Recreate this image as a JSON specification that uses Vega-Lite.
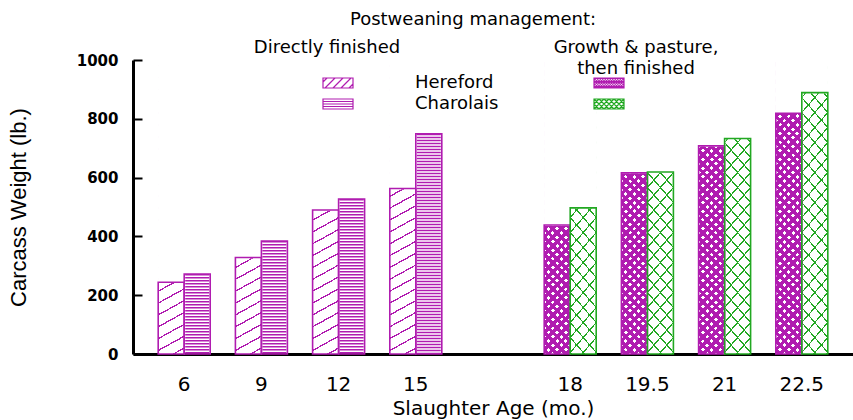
{
"$schema":"https://vega.github.io/schema/vega-lite/v6.json",
"width":720,"height":294,
"autosize":{"type":"none"},
"padding":{"left":133,"top":60,"right":0,"bottom":66},
"background":"white",
"title":{"text":"Postweaning management:","anchor":"middle","dx":-20,"offset":10,"font":"DejaVu Sans","fontSize":18,"fontWeight":"normal","color":"black"},
"config":{
"view":{"stroke":null},
"axisX":{"domainColor":"black","domainWidth":3,"ticks":false,"labelFont":"DejaVu Sans","labelFontSize":20,"labelColor":"black","labelPadding":20,"labelAngle":0,"titleFont":"DejaVu Sans","titleFontSize":20,"titleFontWeight":"normal","titleColor":"black","titlePadding":4,"grid":false,"zindex":1},
"axisY":{"domainColor":"black","domainWidth":3,"tickColor":"black","tickWidth":2,"tickSize":-9,"labelFont":"DejaVu Sans","labelFontWeight":"bold","labelFontSize":15,"labelColor":"black","labelPadding":24,"titleFont":"Liberation Sans","titleFontSize":22,"titleFontWeight":"normal","titleColor":"black","titlePadding":46,"grid":false,"zindex":1}
},
"data":{"values":[
{"age":"6","breed":"Hereford","management":"Directly finished","series":"Hereford, directly finished","weight":244},
{"age":"6","breed":"Charolais","management":"Directly finished","series":"Charolais, directly finished","weight":272},
{"age":"9","breed":"Hereford","management":"Directly finished","series":"Hereford, directly finished","weight":328},
{"age":"9","breed":"Charolais","management":"Directly finished","series":"Charolais, directly finished","weight":384},
{"age":"12","breed":"Hereford","management":"Directly finished","series":"Hereford, directly finished","weight":490},
{"age":"12","breed":"Charolais","management":"Directly finished","series":"Charolais, directly finished","weight":527},
{"age":"15","breed":"Hereford","management":"Directly finished","series":"Hereford, directly finished","weight":563},
{"age":"15","breed":"Charolais","management":"Directly finished","series":"Charolais, directly finished","weight":749},
{"age":"18","breed":"Hereford","management":"Growth & pasture, then finished","series":"Hereford, growth & pasture","weight":439},
{"age":"18","breed":"Charolais","management":"Growth & pasture, then finished","series":"Charolais, growth & pasture","weight":497},
{"age":"19.5","breed":"Hereford","management":"Growth & pasture, then finished","series":"Hereford, growth & pasture","weight":616},
{"age":"19.5","breed":"Charolais","management":"Growth & pasture, then finished","series":"Charolais, growth & pasture","weight":619},
{"age":"21","breed":"Hereford","management":"Growth & pasture, then finished","series":"Hereford, growth & pasture","weight":708},
{"age":"21","breed":"Charolais","management":"Growth & pasture, then finished","series":"Charolais, growth & pasture","weight":733},
{"age":"22.5","breed":"Hereford","management":"Growth & pasture, then finished","series":"Hereford, growth & pasture","weight":819},
{"age":"22.5","breed":"Charolais","management":"Growth & pasture, then finished","series":"Charolais, growth & pasture","weight":889}
]},
"layer":[
{
"encoding":{
"x":{"field":"age","type":"ordinal","title":"Slaughter Age (mo.)","scale":{"domain":["6","9","12","15"," ","18","19.5","21","22.5"],"paddingInner":0.3264,"paddingOuter":0.3264}},
"xOffset":{"field":"breed","type":"nominal","scale":{"domain":["Hereford","Charolais"],"paddingInner":0,"paddingOuter":0}}
},
"layer":[
{
"transform":[{"filter":"datum.series == 'Hereford, directly finished'"}],
"mark":{"type":"bar","fill":{"gradient":"linear","x1":0,"y1":0,"x2":0.0509,"y2":1.0461,"stops":[
{"offset":0.0168,"color":"#fff"},{"offset":0.0168,"color":"#b01cb0"},{"offset":0.0216,"color":"#b01cb0"},{"offset":0.0216,"color":"#fff"},
{"offset":0.0553,"color":"#fff"},{"offset":0.0553,"color":"#b01cb0"},{"offset":0.0601,"color":"#b01cb0"},{"offset":0.0601,"color":"#fff"},
{"offset":0.0938,"color":"#fff"},{"offset":0.0938,"color":"#b01cb0"},{"offset":0.0986,"color":"#b01cb0"},{"offset":0.0986,"color":"#fff"},
{"offset":0.1322,"color":"#fff"},{"offset":0.1322,"color":"#b01cb0"},{"offset":0.137,"color":"#b01cb0"},{"offset":0.137,"color":"#fff"},
{"offset":0.1707,"color":"#fff"},{"offset":0.1707,"color":"#b01cb0"},{"offset":0.1755,"color":"#b01cb0"},{"offset":0.1755,"color":"#fff"},
{"offset":0.2091,"color":"#fff"},{"offset":0.2091,"color":"#b01cb0"},{"offset":0.2139,"color":"#b01cb0"},{"offset":0.2139,"color":"#fff"},
{"offset":0.2476,"color":"#fff"},{"offset":0.2476,"color":"#b01cb0"},{"offset":0.2524,"color":"#b01cb0"},{"offset":0.2524,"color":"#fff"},
{"offset":0.2861,"color":"#fff"},{"offset":0.2861,"color":"#b01cb0"},{"offset":0.2909,"color":"#b01cb0"},{"offset":0.2909,"color":"#fff"},
{"offset":0.3245,"color":"#fff"},{"offset":0.3245,"color":"#b01cb0"},{"offset":0.3293,"color":"#b01cb0"},{"offset":0.3293,"color":"#fff"},
{"offset":0.363,"color":"#fff"},{"offset":0.363,"color":"#b01cb0"},{"offset":0.3678,"color":"#b01cb0"},{"offset":0.3678,"color":"#fff"},
{"offset":0.4014,"color":"#fff"},{"offset":0.4014,"color":"#b01cb0"},{"offset":0.4062,"color":"#b01cb0"},{"offset":0.4062,"color":"#fff"},
{"offset":0.4399,"color":"#fff"},{"offset":0.4399,"color":"#b01cb0"},{"offset":0.4447,"color":"#b01cb0"},{"offset":0.4447,"color":"#fff"},
{"offset":0.4784,"color":"#fff"},{"offset":0.4784,"color":"#b01cb0"},{"offset":0.4832,"color":"#b01cb0"},{"offset":0.4832,"color":"#fff"},
{"offset":0.5168,"color":"#fff"},{"offset":0.5168,"color":"#b01cb0"},{"offset":0.5216,"color":"#b01cb0"},{"offset":0.5216,"color":"#fff"},
{"offset":0.5553,"color":"#fff"},{"offset":0.5553,"color":"#b01cb0"},{"offset":0.5601,"color":"#b01cb0"},{"offset":0.5601,"color":"#fff"},
{"offset":0.5938,"color":"#fff"},{"offset":0.5938,"color":"#b01cb0"},{"offset":0.5986,"color":"#b01cb0"},{"offset":0.5986,"color":"#fff"},
{"offset":0.6322,"color":"#fff"},{"offset":0.6322,"color":"#b01cb0"},{"offset":0.637,"color":"#b01cb0"},{"offset":0.637,"color":"#fff"},
{"offset":0.6707,"color":"#fff"},{"offset":0.6707,"color":"#b01cb0"},{"offset":0.6755,"color":"#b01cb0"},{"offset":0.6755,"color":"#fff"},
{"offset":0.7091,"color":"#fff"},{"offset":0.7091,"color":"#b01cb0"},{"offset":0.7139,"color":"#b01cb0"},{"offset":0.7139,"color":"#fff"},
{"offset":0.7476,"color":"#fff"},{"offset":0.7476,"color":"#b01cb0"},{"offset":0.7524,"color":"#b01cb0"},{"offset":0.7524,"color":"#fff"},
{"offset":0.7861,"color":"#fff"},{"offset":0.7861,"color":"#b01cb0"},{"offset":0.7909,"color":"#b01cb0"},{"offset":0.7909,"color":"#fff"},
{"offset":0.8245,"color":"#fff"},{"offset":0.8245,"color":"#b01cb0"},{"offset":0.8293,"color":"#b01cb0"},{"offset":0.8293,"color":"#fff"},
{"offset":0.863,"color":"#fff"},{"offset":0.863,"color":"#b01cb0"},{"offset":0.8678,"color":"#b01cb0"},{"offset":0.8678,"color":"#fff"},
{"offset":0.9014,"color":"#fff"},{"offset":0.9014,"color":"#b01cb0"},{"offset":0.9062,"color":"#b01cb0"},{"offset":0.9062,"color":"#fff"},
{"offset":0.9399,"color":"#fff"},{"offset":0.9399,"color":"#b01cb0"},{"offset":0.9447,"color":"#b01cb0"},{"offset":0.9447,"color":"#fff"},
{"offset":0.9784,"color":"#fff"},{"offset":0.9784,"color":"#b01cb0"},{"offset":0.9832,"color":"#b01cb0"},{"offset":0.9832,"color":"#fff"}
]}},
"encoding":{"y":{"datum":1000,"type":"quantitative","title":"Carcass Weight (lb.)","scale":{"domain":[0,1000],"nice":false},"axis":{"values":[0,200,400,600,800,1000],"format":"d"}},"y2":{"datum":0}}
},
{
"transform":[{"filter":"datum.series == 'Hereford, growth & pasture'"}],
"mark":{"type":"bar","fill":{"gradient":"linear","x1":0,"y1":0,"x2":0.0955,"y2":1.08,"stops":[
{"offset":0.0061,"color":"#fff"},{"offset":0.0061,"color":"#b01cb0"},{"offset":0.0209,"color":"#b01cb0"},{"offset":0.0209,"color":"#fff"},
{"offset":0.0331,"color":"#fff"},{"offset":0.0331,"color":"#b01cb0"},{"offset":0.0479,"color":"#b01cb0"},{"offset":0.0479,"color":"#fff"},
{"offset":0.0602,"color":"#fff"},{"offset":0.0602,"color":"#b01cb0"},{"offset":0.075,"color":"#b01cb0"},{"offset":0.075,"color":"#fff"},
{"offset":0.0872,"color":"#fff"},{"offset":0.0872,"color":"#b01cb0"},{"offset":0.102,"color":"#b01cb0"},{"offset":0.102,"color":"#fff"},
{"offset":0.1142,"color":"#fff"},{"offset":0.1142,"color":"#b01cb0"},{"offset":0.129,"color":"#b01cb0"},{"offset":0.129,"color":"#fff"},
{"offset":0.1412,"color":"#fff"},{"offset":0.1412,"color":"#b01cb0"},{"offset":0.1561,"color":"#b01cb0"},{"offset":0.1561,"color":"#fff"},
{"offset":0.1683,"color":"#fff"},{"offset":0.1683,"color":"#b01cb0"},{"offset":0.1831,"color":"#b01cb0"},{"offset":0.1831,"color":"#fff"},
{"offset":0.1953,"color":"#fff"},{"offset":0.1953,"color":"#b01cb0"},{"offset":0.2101,"color":"#b01cb0"},{"offset":0.2101,"color":"#fff"},
{"offset":0.2223,"color":"#fff"},{"offset":0.2223,"color":"#b01cb0"},{"offset":0.2371,"color":"#b01cb0"},{"offset":0.2371,"color":"#fff"},
{"offset":0.2494,"color":"#fff"},{"offset":0.2494,"color":"#b01cb0"},{"offset":0.2642,"color":"#b01cb0"},{"offset":0.2642,"color":"#fff"},
{"offset":0.2764,"color":"#fff"},{"offset":0.2764,"color":"#b01cb0"},{"offset":0.2912,"color":"#b01cb0"},{"offset":0.2912,"color":"#fff"},
{"offset":0.3034,"color":"#fff"},{"offset":0.3034,"color":"#b01cb0"},{"offset":0.3182,"color":"#b01cb0"},{"offset":0.3182,"color":"#fff"},
{"offset":0.3304,"color":"#fff"},{"offset":0.3304,"color":"#b01cb0"},{"offset":0.3452,"color":"#b01cb0"},{"offset":0.3452,"color":"#fff"},
{"offset":0.3575,"color":"#fff"},{"offset":0.3575,"color":"#b01cb0"},{"offset":0.3723,"color":"#b01cb0"},{"offset":0.3723,"color":"#fff"},
{"offset":0.3845,"color":"#fff"},{"offset":0.3845,"color":"#b01cb0"},{"offset":0.3993,"color":"#b01cb0"},{"offset":0.3993,"color":"#fff"},
{"offset":0.4115,"color":"#fff"},{"offset":0.4115,"color":"#b01cb0"},{"offset":0.4263,"color":"#b01cb0"},{"offset":0.4263,"color":"#fff"},
{"offset":0.4386,"color":"#fff"},{"offset":0.4386,"color":"#b01cb0"},{"offset":0.4534,"color":"#b01cb0"},{"offset":0.4534,"color":"#fff"},
{"offset":0.4656,"color":"#fff"},{"offset":0.4656,"color":"#b01cb0"},{"offset":0.4804,"color":"#b01cb0"},{"offset":0.4804,"color":"#fff"},
{"offset":0.4926,"color":"#fff"},{"offset":0.4926,"color":"#b01cb0"},{"offset":0.5074,"color":"#b01cb0"},{"offset":0.5074,"color":"#fff"},
{"offset":0.5196,"color":"#fff"},{"offset":0.5196,"color":"#b01cb0"},{"offset":0.5344,"color":"#b01cb0"},{"offset":0.5344,"color":"#fff"},
{"offset":0.5467,"color":"#fff"},{"offset":0.5467,"color":"#b01cb0"},{"offset":0.5615,"color":"#b01cb0"},{"offset":0.5615,"color":"#fff"},
{"offset":0.5737,"color":"#fff"},{"offset":0.5737,"color":"#b01cb0"},{"offset":0.5885,"color":"#b01cb0"},{"offset":0.5885,"color":"#fff"},
{"offset":0.6007,"color":"#fff"},{"offset":0.6007,"color":"#b01cb0"},{"offset":0.6155,"color":"#b01cb0"},{"offset":0.6155,"color":"#fff"},
{"offset":0.6277,"color":"#fff"},{"offset":0.6277,"color":"#b01cb0"},{"offset":0.6425,"color":"#b01cb0"},{"offset":0.6425,"color":"#fff"},
{"offset":0.6548,"color":"#fff"},{"offset":0.6548,"color":"#b01cb0"},{"offset":0.6696,"color":"#b01cb0"},{"offset":0.6696,"color":"#fff"},
{"offset":0.6818,"color":"#fff"},{"offset":0.6818,"color":"#b01cb0"},{"offset":0.6966,"color":"#b01cb0"},{"offset":0.6966,"color":"#fff"},
{"offset":0.7088,"color":"#fff"},{"offset":0.7088,"color":"#b01cb0"},{"offset":0.7236,"color":"#b01cb0"},{"offset":0.7236,"color":"#fff"},
{"offset":0.7358,"color":"#fff"},{"offset":0.7358,"color":"#b01cb0"},{"offset":0.7506,"color":"#b01cb0"},{"offset":0.7506,"color":"#fff"},
{"offset":0.7629,"color":"#fff"},{"offset":0.7629,"color":"#b01cb0"},{"offset":0.7777,"color":"#b01cb0"},{"offset":0.7777,"color":"#fff"},
{"offset":0.7899,"color":"#fff"},{"offset":0.7899,"color":"#b01cb0"},{"offset":0.8047,"color":"#b01cb0"},{"offset":0.8047,"color":"#fff"},
{"offset":0.8169,"color":"#fff"},{"offset":0.8169,"color":"#b01cb0"},{"offset":0.8317,"color":"#b01cb0"},{"offset":0.8317,"color":"#fff"},
{"offset":0.844,"color":"#fff"},{"offset":0.844,"color":"#b01cb0"},{"offset":0.8588,"color":"#b01cb0"},{"offset":0.8588,"color":"#fff"},
{"offset":0.871,"color":"#fff"},{"offset":0.871,"color":"#b01cb0"},{"offset":0.8858,"color":"#b01cb0"},{"offset":0.8858,"color":"#fff"},
{"offset":0.898,"color":"#fff"},{"offset":0.898,"color":"#b01cb0"},{"offset":0.9128,"color":"#b01cb0"},{"offset":0.9128,"color":"#fff"},
{"offset":0.925,"color":"#fff"},{"offset":0.925,"color":"#b01cb0"},{"offset":0.9398,"color":"#b01cb0"},{"offset":0.9398,"color":"#fff"},
{"offset":0.9521,"color":"#fff"},{"offset":0.9521,"color":"#b01cb0"},{"offset":0.9669,"color":"#b01cb0"},{"offset":0.9669,"color":"#fff"},
{"offset":0.9791,"color":"#fff"},{"offset":0.9791,"color":"#b01cb0"},{"offset":0.9939,"color":"#b01cb0"},{"offset":0.9939,"color":"#fff"}
]}},
"encoding":{"y":{"datum":1000,"type":"quantitative","title":"Carcass Weight (lb.)"},"y2":{"datum":0}}
},
{
"transform":[{"filter":"datum.series == 'Hereford, growth & pasture'"}],
"mark":{"type":"bar","fill":{"gradient":"linear","x1":1,"y1":0,"x2":0.9045,"y2":1.08,"stops":[
{"offset":0.0061,"color":"rgba(255,255,255,0)"},{"offset":0.0061,"color":"#b01cb0"},{"offset":0.0209,"color":"#b01cb0"},{"offset":0.0209,"color":"rgba(255,255,255,0)"},
{"offset":0.0331,"color":"rgba(255,255,255,0)"},{"offset":0.0331,"color":"#b01cb0"},{"offset":0.0479,"color":"#b01cb0"},{"offset":0.0479,"color":"rgba(255,255,255,0)"},
{"offset":0.0602,"color":"rgba(255,255,255,0)"},{"offset":0.0602,"color":"#b01cb0"},{"offset":0.075,"color":"#b01cb0"},{"offset":0.075,"color":"rgba(255,255,255,0)"},
{"offset":0.0872,"color":"rgba(255,255,255,0)"},{"offset":0.0872,"color":"#b01cb0"},{"offset":0.102,"color":"#b01cb0"},{"offset":0.102,"color":"rgba(255,255,255,0)"},
{"offset":0.1142,"color":"rgba(255,255,255,0)"},{"offset":0.1142,"color":"#b01cb0"},{"offset":0.129,"color":"#b01cb0"},{"offset":0.129,"color":"rgba(255,255,255,0)"},
{"offset":0.1412,"color":"rgba(255,255,255,0)"},{"offset":0.1412,"color":"#b01cb0"},{"offset":0.1561,"color":"#b01cb0"},{"offset":0.1561,"color":"rgba(255,255,255,0)"},
{"offset":0.1683,"color":"rgba(255,255,255,0)"},{"offset":0.1683,"color":"#b01cb0"},{"offset":0.1831,"color":"#b01cb0"},{"offset":0.1831,"color":"rgba(255,255,255,0)"},
{"offset":0.1953,"color":"rgba(255,255,255,0)"},{"offset":0.1953,"color":"#b01cb0"},{"offset":0.2101,"color":"#b01cb0"},{"offset":0.2101,"color":"rgba(255,255,255,0)"},
{"offset":0.2223,"color":"rgba(255,255,255,0)"},{"offset":0.2223,"color":"#b01cb0"},{"offset":0.2371,"color":"#b01cb0"},{"offset":0.2371,"color":"rgba(255,255,255,0)"},
{"offset":0.2494,"color":"rgba(255,255,255,0)"},{"offset":0.2494,"color":"#b01cb0"},{"offset":0.2642,"color":"#b01cb0"},{"offset":0.2642,"color":"rgba(255,255,255,0)"},
{"offset":0.2764,"color":"rgba(255,255,255,0)"},{"offset":0.2764,"color":"#b01cb0"},{"offset":0.2912,"color":"#b01cb0"},{"offset":0.2912,"color":"rgba(255,255,255,0)"},
{"offset":0.3034,"color":"rgba(255,255,255,0)"},{"offset":0.3034,"color":"#b01cb0"},{"offset":0.3182,"color":"#b01cb0"},{"offset":0.3182,"color":"rgba(255,255,255,0)"},
{"offset":0.3304,"color":"rgba(255,255,255,0)"},{"offset":0.3304,"color":"#b01cb0"},{"offset":0.3452,"color":"#b01cb0"},{"offset":0.3452,"color":"rgba(255,255,255,0)"},
{"offset":0.3575,"color":"rgba(255,255,255,0)"},{"offset":0.3575,"color":"#b01cb0"},{"offset":0.3723,"color":"#b01cb0"},{"offset":0.3723,"color":"rgba(255,255,255,0)"},
{"offset":0.3845,"color":"rgba(255,255,255,0)"},{"offset":0.3845,"color":"#b01cb0"},{"offset":0.3993,"color":"#b01cb0"},{"offset":0.3993,"color":"rgba(255,255,255,0)"},
{"offset":0.4115,"color":"rgba(255,255,255,0)"},{"offset":0.4115,"color":"#b01cb0"},{"offset":0.4263,"color":"#b01cb0"},{"offset":0.4263,"color":"rgba(255,255,255,0)"},
{"offset":0.4386,"color":"rgba(255,255,255,0)"},{"offset":0.4386,"color":"#b01cb0"},{"offset":0.4534,"color":"#b01cb0"},{"offset":0.4534,"color":"rgba(255,255,255,0)"},
{"offset":0.4656,"color":"rgba(255,255,255,0)"},{"offset":0.4656,"color":"#b01cb0"},{"offset":0.4804,"color":"#b01cb0"},{"offset":0.4804,"color":"rgba(255,255,255,0)"},
{"offset":0.4926,"color":"rgba(255,255,255,0)"},{"offset":0.4926,"color":"#b01cb0"},{"offset":0.5074,"color":"#b01cb0"},{"offset":0.5074,"color":"rgba(255,255,255,0)"},
{"offset":0.5196,"color":"rgba(255,255,255,0)"},{"offset":0.5196,"color":"#b01cb0"},{"offset":0.5344,"color":"#b01cb0"},{"offset":0.5344,"color":"rgba(255,255,255,0)"},
{"offset":0.5467,"color":"rgba(255,255,255,0)"},{"offset":0.5467,"color":"#b01cb0"},{"offset":0.5615,"color":"#b01cb0"},{"offset":0.5615,"color":"rgba(255,255,255,0)"},
{"offset":0.5737,"color":"rgba(255,255,255,0)"},{"offset":0.5737,"color":"#b01cb0"},{"offset":0.5885,"color":"#b01cb0"},{"offset":0.5885,"color":"rgba(255,255,255,0)"},
{"offset":0.6007,"color":"rgba(255,255,255,0)"},{"offset":0.6007,"color":"#b01cb0"},{"offset":0.6155,"color":"#b01cb0"},{"offset":0.6155,"color":"rgba(255,255,255,0)"},
{"offset":0.6277,"color":"rgba(255,255,255,0)"},{"offset":0.6277,"color":"#b01cb0"},{"offset":0.6425,"color":"#b01cb0"},{"offset":0.6425,"color":"rgba(255,255,255,0)"},
{"offset":0.6548,"color":"rgba(255,255,255,0)"},{"offset":0.6548,"color":"#b01cb0"},{"offset":0.6696,"color":"#b01cb0"},{"offset":0.6696,"color":"rgba(255,255,255,0)"},
{"offset":0.6818,"color":"rgba(255,255,255,0)"},{"offset":0.6818,"color":"#b01cb0"},{"offset":0.6966,"color":"#b01cb0"},{"offset":0.6966,"color":"rgba(255,255,255,0)"},
{"offset":0.7088,"color":"rgba(255,255,255,0)"},{"offset":0.7088,"color":"#b01cb0"},{"offset":0.7236,"color":"#b01cb0"},{"offset":0.7236,"color":"rgba(255,255,255,0)"},
{"offset":0.7358,"color":"rgba(255,255,255,0)"},{"offset":0.7358,"color":"#b01cb0"},{"offset":0.7506,"color":"#b01cb0"},{"offset":0.7506,"color":"rgba(255,255,255,0)"},
{"offset":0.7629,"color":"rgba(255,255,255,0)"},{"offset":0.7629,"color":"#b01cb0"},{"offset":0.7777,"color":"#b01cb0"},{"offset":0.7777,"color":"rgba(255,255,255,0)"},
{"offset":0.7899,"color":"rgba(255,255,255,0)"},{"offset":0.7899,"color":"#b01cb0"},{"offset":0.8047,"color":"#b01cb0"},{"offset":0.8047,"color":"rgba(255,255,255,0)"},
{"offset":0.8169,"color":"rgba(255,255,255,0)"},{"offset":0.8169,"color":"#b01cb0"},{"offset":0.8317,"color":"#b01cb0"},{"offset":0.8317,"color":"rgba(255,255,255,0)"},
{"offset":0.844,"color":"rgba(255,255,255,0)"},{"offset":0.844,"color":"#b01cb0"},{"offset":0.8588,"color":"#b01cb0"},{"offset":0.8588,"color":"rgba(255,255,255,0)"},
{"offset":0.871,"color":"rgba(255,255,255,0)"},{"offset":0.871,"color":"#b01cb0"},{"offset":0.8858,"color":"#b01cb0"},{"offset":0.8858,"color":"rgba(255,255,255,0)"},
{"offset":0.898,"color":"rgba(255,255,255,0)"},{"offset":0.898,"color":"#b01cb0"},{"offset":0.9128,"color":"#b01cb0"},{"offset":0.9128,"color":"rgba(255,255,255,0)"},
{"offset":0.925,"color":"rgba(255,255,255,0)"},{"offset":0.925,"color":"#b01cb0"},{"offset":0.9398,"color":"#b01cb0"},{"offset":0.9398,"color":"rgba(255,255,255,0)"},
{"offset":0.9521,"color":"rgba(255,255,255,0)"},{"offset":0.9521,"color":"#b01cb0"},{"offset":0.9669,"color":"#b01cb0"},{"offset":0.9669,"color":"rgba(255,255,255,0)"},
{"offset":0.9791,"color":"rgba(255,255,255,0)"},{"offset":0.9791,"color":"#b01cb0"},{"offset":0.9939,"color":"#b01cb0"},{"offset":0.9939,"color":"rgba(255,255,255,0)"}
]}},
"encoding":{"y":{"datum":1000,"type":"quantitative","title":"Carcass Weight (lb.)"},"y2":{"datum":0}}
},
{
"transform":[{"filter":"datum.series == 'Charolais, growth & pasture'"}],
"mark":{"type":"bar","fill":{"gradient":"linear","x1":0,"y1":0,"x2":0.1113,"y2":1.0907,"stops":[
{"offset":0.0204,"color":"#fff"},{"offset":0.0204,"color":"#22a822"},{"offset":0.026,"color":"#22a822"},{"offset":0.026,"color":"#fff"},
{"offset":0.0666,"color":"#fff"},{"offset":0.0666,"color":"#22a822"},{"offset":0.0722,"color":"#22a822"},{"offset":0.0722,"color":"#fff"},
{"offset":0.1129,"color":"#fff"},{"offset":0.1129,"color":"#22a822"},{"offset":0.1185,"color":"#22a822"},{"offset":0.1185,"color":"#fff"},
{"offset":0.1592,"color":"#fff"},{"offset":0.1592,"color":"#22a822"},{"offset":0.1648,"color":"#22a822"},{"offset":0.1648,"color":"#fff"},
{"offset":0.2055,"color":"#fff"},{"offset":0.2055,"color":"#22a822"},{"offset":0.2111,"color":"#22a822"},{"offset":0.2111,"color":"#fff"},
{"offset":0.2518,"color":"#fff"},{"offset":0.2518,"color":"#22a822"},{"offset":0.2574,"color":"#22a822"},{"offset":0.2574,"color":"#fff"},
{"offset":0.2981,"color":"#fff"},{"offset":0.2981,"color":"#22a822"},{"offset":0.3037,"color":"#22a822"},{"offset":0.3037,"color":"#fff"},
{"offset":0.3444,"color":"#fff"},{"offset":0.3444,"color":"#22a822"},{"offset":0.35,"color":"#22a822"},{"offset":0.35,"color":"#fff"},
{"offset":0.3907,"color":"#fff"},{"offset":0.3907,"color":"#22a822"},{"offset":0.3963,"color":"#22a822"},{"offset":0.3963,"color":"#fff"},
{"offset":0.437,"color":"#fff"},{"offset":0.437,"color":"#22a822"},{"offset":0.4426,"color":"#22a822"},{"offset":0.4426,"color":"#fff"},
{"offset":0.4833,"color":"#fff"},{"offset":0.4833,"color":"#22a822"},{"offset":0.4889,"color":"#22a822"},{"offset":0.4889,"color":"#fff"},
{"offset":0.5296,"color":"#fff"},{"offset":0.5296,"color":"#22a822"},{"offset":0.5352,"color":"#22a822"},{"offset":0.5352,"color":"#fff"},
{"offset":0.5759,"color":"#fff"},{"offset":0.5759,"color":"#22a822"},{"offset":0.5815,"color":"#22a822"},{"offset":0.5815,"color":"#fff"},
{"offset":0.6222,"color":"#fff"},{"offset":0.6222,"color":"#22a822"},{"offset":0.6278,"color":"#22a822"},{"offset":0.6278,"color":"#fff"},
{"offset":0.6685,"color":"#fff"},{"offset":0.6685,"color":"#22a822"},{"offset":0.6741,"color":"#22a822"},{"offset":0.6741,"color":"#fff"},
{"offset":0.7148,"color":"#fff"},{"offset":0.7148,"color":"#22a822"},{"offset":0.7204,"color":"#22a822"},{"offset":0.7204,"color":"#fff"},
{"offset":0.7611,"color":"#fff"},{"offset":0.7611,"color":"#22a822"},{"offset":0.7667,"color":"#22a822"},{"offset":0.7667,"color":"#fff"},
{"offset":0.8074,"color":"#fff"},{"offset":0.8074,"color":"#22a822"},{"offset":0.813,"color":"#22a822"},{"offset":0.813,"color":"#fff"},
{"offset":0.8537,"color":"#fff"},{"offset":0.8537,"color":"#22a822"},{"offset":0.8593,"color":"#22a822"},{"offset":0.8593,"color":"#fff"},
{"offset":0.9,"color":"#fff"},{"offset":0.9,"color":"#22a822"},{"offset":0.9056,"color":"#22a822"},{"offset":0.9056,"color":"#fff"},
{"offset":0.9463,"color":"#fff"},{"offset":0.9463,"color":"#22a822"},{"offset":0.9519,"color":"#22a822"},{"offset":0.9519,"color":"#fff"},
{"offset":0.9926,"color":"#fff"},{"offset":0.9926,"color":"#22a822"},{"offset":0.9982,"color":"#22a822"},{"offset":0.9982,"color":"#fff"}
]}},
"encoding":{"y":{"datum":1000,"type":"quantitative","title":"Carcass Weight (lb.)"},"y2":{"datum":0}}
},
{
"transform":[{"filter":"datum.series == 'Charolais, growth & pasture'"}],
"mark":{"type":"bar","fill":{"gradient":"linear","x1":1,"y1":0,"x2":0.8887,"y2":1.0907,"stops":[
{"offset":0.0204,"color":"rgba(255,255,255,0)"},{"offset":0.0204,"color":"#22a822"},{"offset":0.026,"color":"#22a822"},{"offset":0.026,"color":"rgba(255,255,255,0)"},
{"offset":0.0666,"color":"rgba(255,255,255,0)"},{"offset":0.0666,"color":"#22a822"},{"offset":0.0722,"color":"#22a822"},{"offset":0.0722,"color":"rgba(255,255,255,0)"},
{"offset":0.1129,"color":"rgba(255,255,255,0)"},{"offset":0.1129,"color":"#22a822"},{"offset":0.1185,"color":"#22a822"},{"offset":0.1185,"color":"rgba(255,255,255,0)"},
{"offset":0.1592,"color":"rgba(255,255,255,0)"},{"offset":0.1592,"color":"#22a822"},{"offset":0.1648,"color":"#22a822"},{"offset":0.1648,"color":"rgba(255,255,255,0)"},
{"offset":0.2055,"color":"rgba(255,255,255,0)"},{"offset":0.2055,"color":"#22a822"},{"offset":0.2111,"color":"#22a822"},{"offset":0.2111,"color":"rgba(255,255,255,0)"},
{"offset":0.2518,"color":"rgba(255,255,255,0)"},{"offset":0.2518,"color":"#22a822"},{"offset":0.2574,"color":"#22a822"},{"offset":0.2574,"color":"rgba(255,255,255,0)"},
{"offset":0.2981,"color":"rgba(255,255,255,0)"},{"offset":0.2981,"color":"#22a822"},{"offset":0.3037,"color":"#22a822"},{"offset":0.3037,"color":"rgba(255,255,255,0)"},
{"offset":0.3444,"color":"rgba(255,255,255,0)"},{"offset":0.3444,"color":"#22a822"},{"offset":0.35,"color":"#22a822"},{"offset":0.35,"color":"rgba(255,255,255,0)"},
{"offset":0.3907,"color":"rgba(255,255,255,0)"},{"offset":0.3907,"color":"#22a822"},{"offset":0.3963,"color":"#22a822"},{"offset":0.3963,"color":"rgba(255,255,255,0)"},
{"offset":0.437,"color":"rgba(255,255,255,0)"},{"offset":0.437,"color":"#22a822"},{"offset":0.4426,"color":"#22a822"},{"offset":0.4426,"color":"rgba(255,255,255,0)"},
{"offset":0.4833,"color":"rgba(255,255,255,0)"},{"offset":0.4833,"color":"#22a822"},{"offset":0.4889,"color":"#22a822"},{"offset":0.4889,"color":"rgba(255,255,255,0)"},
{"offset":0.5296,"color":"rgba(255,255,255,0)"},{"offset":0.5296,"color":"#22a822"},{"offset":0.5352,"color":"#22a822"},{"offset":0.5352,"color":"rgba(255,255,255,0)"},
{"offset":0.5759,"color":"rgba(255,255,255,0)"},{"offset":0.5759,"color":"#22a822"},{"offset":0.5815,"color":"#22a822"},{"offset":0.5815,"color":"rgba(255,255,255,0)"},
{"offset":0.6222,"color":"rgba(255,255,255,0)"},{"offset":0.6222,"color":"#22a822"},{"offset":0.6278,"color":"#22a822"},{"offset":0.6278,"color":"rgba(255,255,255,0)"},
{"offset":0.6685,"color":"rgba(255,255,255,0)"},{"offset":0.6685,"color":"#22a822"},{"offset":0.6741,"color":"#22a822"},{"offset":0.6741,"color":"rgba(255,255,255,0)"},
{"offset":0.7148,"color":"rgba(255,255,255,0)"},{"offset":0.7148,"color":"#22a822"},{"offset":0.7204,"color":"#22a822"},{"offset":0.7204,"color":"rgba(255,255,255,0)"},
{"offset":0.7611,"color":"rgba(255,255,255,0)"},{"offset":0.7611,"color":"#22a822"},{"offset":0.7667,"color":"#22a822"},{"offset":0.7667,"color":"rgba(255,255,255,0)"},
{"offset":0.8074,"color":"rgba(255,255,255,0)"},{"offset":0.8074,"color":"#22a822"},{"offset":0.813,"color":"#22a822"},{"offset":0.813,"color":"rgba(255,255,255,0)"},
{"offset":0.8537,"color":"rgba(255,255,255,0)"},{"offset":0.8537,"color":"#22a822"},{"offset":0.8593,"color":"#22a822"},{"offset":0.8593,"color":"rgba(255,255,255,0)"},
{"offset":0.9,"color":"rgba(255,255,255,0)"},{"offset":0.9,"color":"#22a822"},{"offset":0.9056,"color":"#22a822"},{"offset":0.9056,"color":"rgba(255,255,255,0)"},
{"offset":0.9463,"color":"rgba(255,255,255,0)"},{"offset":0.9463,"color":"#22a822"},{"offset":0.9519,"color":"#22a822"},{"offset":0.9519,"color":"rgba(255,255,255,0)"},
{"offset":0.9926,"color":"rgba(255,255,255,0)"},{"offset":0.9926,"color":"#22a822"},{"offset":0.9982,"color":"#22a822"},{"offset":0.9982,"color":"rgba(255,255,255,0)"}
]}},
"encoding":{"y":{"datum":1000,"type":"quantitative","title":"Carcass Weight (lb.)"},"y2":{"datum":0}}
},
{
"mark":{"type":"bar","fill":"white","stroke":"white","strokeWidth":1.4},
"encoding":{"y":{"field":"weight","type":"quantitative","title":"Carcass Weight (lb.)"},"y2":{"datum":1000}}
},
{
"transform":[{"filter":"datum.series == 'Charolais, directly finished'"}],
"mark":{"type":"rule","color":"#b01cb0","strokeWidth":24,"strokeDash":[1.4,1.6],"strokeCap":"butt"},
"encoding":{"y":{"field":"weight","type":"quantitative","title":"Carcass Weight (lb.)"},"y2":{"datum":0}}
},
{
"mark":{"type":"bar","fill":"transparent","strokeWidth":1.6},
"encoding":{
"y":{"field":"weight","type":"quantitative","title":"Carcass Weight (lb.)"},
"stroke":{"condition":{"test":"datum.series == 'Charolais, growth & pasture'","value":"#22a822"},"value":"#b01cb0"}
}
},
{
"mark":{"type":"point","filled":false,"opacity":0,"size":100},
"encoding":{
"y":{"field":"weight","type":"quantitative","title":"Carcass Weight (lb.)"},
"stroke":{"field":"series","type":"nominal","scale":{"domain":["Hereford, directly finished","Charolais, directly finished","Hereford, growth & pasture","Charolais, growth & pasture"],"range":["#b01cb0","#b01cb0","#b01cb0","#22a822"]},
"legend":{"orient":"none","legendX":196,"legendY":14,"direction":"vertical","columns":2,"title":null,"symbolSize":100,"symbolStrokeWidth":1.2,"symbolOpacity":1,"labelFont":"DejaVu Sans","labelFontSize":18,"labelColor":"black","labelOffset":68,"columnPadding":92,"rowPadding":3,"labelExpr":"indexof(datum.label, 'directly') >= 0 ? split(datum.label, ',')[0] : ''"}},
"shape":{"field":"series","type":"nominal","scale":{"domain":["Hereford, directly finished","Charolais, directly finished","Hereford, growth & pasture","Charolais, growth & pasture"],"range":[
"M-3,-1H3V1H-3ZM-3,-0.2L-2.2,-1M-2.6,1L-0.6,-1M-1,1L1,-1M0.6,1L2.6,-1M2.2,1L3,0.2",
"M-3,-1H3V1H-3ZM-3,-0.5H3M-3,0H3M-3,0.5H3",
"M-3,-1H3V1H-3ZM-3,-0.5L-2.5,-1M-3,0L-2,-1M-3,0.5L-1.5,-1M-3,1L-1,-1M-2.5,1L-0.5,-1M-2,1L0,-1M-1.5,1L0.5,-1M-1,1L1,-1M-0.5,1L1.5,-1M0,1L2,-1M0.5,1L2.5,-1M1,1L3,-1M1.5,1L3,-0.5M2,1L3,0M2.5,1L3,0.5M-3,0.5L-2.5,1M-3,0L-2,1M-3,-0.5L-1.5,1M-3,-1L-1,1M-2.5,-1L-0.5,1M-2,-1L0,1M-1.5,-1L0.5,1M-1,-1L1,1M-0.5,-1L1.5,1M0,-1L2,1M0.5,-1L2.5,1M1,-1L3,1M1.5,-1L3,0.5M2,-1L3,0M2.5,-1L3,-0.5",
"M-3,-1H3V1H-3ZM-3,0L-2,-1M-3,1L-1,-1M-2,1L0,-1M-1,1L1,-1M0,1L2,-1M1,1L3,-1M2,1L3,0M-3,0L-2,1M-3,-1L-1,1M-2,-1L0,1M-1,-1L1,1M0,-1L2,1M1,-1L3,1M2,-1L3,0"
]},
"legend":{"orient":"none","legendX":196,"legendY":14,"direction":"vertical","columns":2,"title":null,"symbolSize":100,"symbolStrokeWidth":1.2,"symbolOpacity":1,"labelFont":"DejaVu Sans","labelFontSize":18,"labelColor":"black","labelOffset":68,"columnPadding":92,"rowPadding":3,"labelExpr":"indexof(datum.label, 'directly') >= 0 ? split(datum.label, ',')[0] : ''"}}
}
}
]
},
{
"data":{"values":[{"header":"Directly finished"}]},
"mark":{"type":"text","font":"DejaVu Sans","fontSize":18,"baseline":"alphabetic","align":"center","dx":-11.6,"color":"black"},
"encoding":{"x":{"datum":"12","type":"ordinal","title":"Slaughter Age (mo.)"},"y":{"datum":1024,"type":"quantitative","title":"Carcass Weight (lb.)"},"text":{"field":"header"}}
},
{
"data":{"values":[{"header":"Growth & pasture,\nthen finished"}]},
"mark":{"type":"text","font":"DejaVu Sans","fontSize":18,"baseline":"alphabetic","align":"center","dx":-11.4,"color":"black","lineHeight":21,"lineBreak":"\n"},
"encoding":{"x":{"datum":"19.5","type":"ordinal","title":"Slaughter Age (mo.)"},"y":{"datum":1024,"type":"quantitative","title":"Carcass Weight (lb.)"},"text":{"field":"header"}}
}
]
}
